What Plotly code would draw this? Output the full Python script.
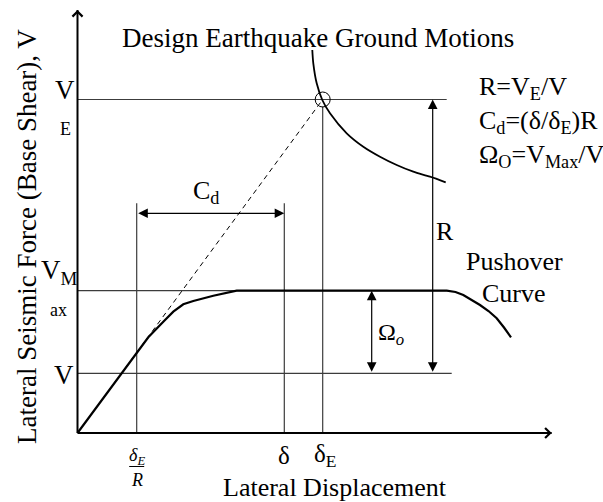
import plotly.graph_objects as go

# ---------------- data (schematic units) ----------------
disp_names = ["δE/R", "δ", "δE"]
disp_values = [5.92, 20.68, 24.52]          # δE/R, δ, δE
force_names = ["V", "VMax", "VE"]
force_values = [5.97, 14.23, 33.35]         # V, VMax, VE

pushover_disp = [0.0, 7.08, 8.58, 9.58, 10.58, 11.58, 13.58, 15.25, 15.92,
                 36.92, 37.8, 38.58, 39.4, 40.25, 41.1, 41.92, 42.65, 43.35]
pushover_force = [0.0, 9.57, 11.13, 12.13, 12.87, 13.2, 13.73, 14.13, 14.23,
                  14.23, 14.1, 13.8, 13.35, 12.8, 12.2, 11.47, 10.55, 9.57]

demand_disp = [23.48, 23.58, 23.92, 24.48, 25.25, 26.92, 28.58, 30.25, 31.92, 33.58, 35.25, 36.82]
demand_force = [38.3, 36.97, 34.97, 33.3, 31.97, 29.97, 28.63, 27.63, 26.8, 26.13, 25.63, 25.07]

axis_x_end = 47.42
axis_y_end = 42.3
ref_line_end = [37.42, 36.92, 36.92]        # right ends of V, VMax, VE lines
cd_level = 21.97
cd_tick_top = 22.97
r_arrow_x = 35.52
omega_arrow_x = 29.42

V, VMAX, VE = force_values
D_R, D, D_E = disp_values

FONT = "Liberation Serif"
GRID = "#3c3c3c"

fig = go.Figure()

def seg(x, y, color=GRID, width=1.2, dash=None):
    fig.add_trace(go.Scatter(x=x, y=y, mode="lines", hoverinfo="skip",
                             line=dict(color=color, width=width, dash=dash),
                             showlegend=False))

# reference horizontal lines
for fv, xe in zip(force_values, ref_line_end):
    seg([0, xe], [fv, fv])

# vertical lines
seg([D_R, D_R], [0, cd_tick_top])
seg([D, D], [0, cd_tick_top])
seg([D_E, D_E], [0, VE - 0.7])

# dashed elastic line
seg([0, D_E], [0, VE], color="black", width=1, dash="5px,4px")

# demand curve
fig.add_trace(go.Scatter(x=demand_disp, y=demand_force, mode="lines", hoverinfo="skip",
                         line=dict(color="black", width=1.8, shape="spline", smoothing=0.8),
                         showlegend=False))
# pushover curve
fig.add_trace(go.Scatter(x=pushover_disp, y=pushover_force, mode="lines", hoverinfo="skip",
                         line=dict(color="black", width=2.2),
                         showlegend=False))
# circle at design point
fig.add_trace(go.Scatter(x=[D_E], y=[VE], mode="markers", hoverinfo="skip",
                         marker=dict(symbol="circle-open", size=15, color="black", line=dict(width=1)),
                         showlegend=False))

# main axes
seg([0, axis_x_end], [0, 0], color="black", width=2)
seg([0, 0], [0, axis_y_end], color="black", width=2)

ann = []
def arrow(x0, y0, x1, y1, head=2, size=1.6, width=1.2, both=True):
    ann.append(dict(x=x1, y=y1, ax=x0, ay=y0, xref="x", yref="y", axref="x", ayref="y",
                    text="", showarrow=True, arrowhead=head, startarrowhead=head,
                    arrowsize=size, startarrowsize=size, arrowwidth=width,
                    arrowside="end+start" if both else "end", arrowcolor="black",
                    standoff=0, startstandoff=0))

arrow(0, axis_y_end - 0.5, 0, axis_y_end, head=4, size=1.3, width=1.5, both=False)
arrow(axis_x_end - 0.5, 0, axis_x_end, 0, head=4, size=1.3, width=1.5, both=False)
arrow(D_R, cd_level, D, cd_level)
arrow(r_arrow_x, V, r_arrow_x, VE)
arrow(omega_arrow_x, V, omega_arrow_x, VMAX)

def txt(x, y, s, size=26, xanchor="center", angle=0):
    ann.append(dict(x=x, y=y, xref="x", yref="y", text=s, showarrow=False,
                    xanchor=xanchor, yanchor="middle", textangle=angle,
                    font=dict(family=FONT, size=size, color="black")))

# titles
txt(-5.1, 19.65, "Lateral Seismic Force (Base Shear), V", size=27, angle=-90)
txt(25.7, -5.4, "Lateral Displacement", size=26)
txt(24.0, 39.5, "Design Earthquake Ground Motions", size=27)

# y labels
txt(-1.3, VE + 1.0, "V", size=27)
txt(-1.25, VE - 2.9, "E", size=18)
txt(-1.85, VMAX + 1.9, "V<sub>M</sub>", size=27)
txt(-1.9, VMAX - 1.93, "ax", size=18)
txt(-1.4, V - 0.2, "V", size=27)

# x labels
txt(D, -2.2, "δ", size=25)
txt(D_E + 0.2, -2.2, "δ<sub>E</sub>", size=25)
txt(D_R, -2.3, "<i>δ<sub>E</sub></i>", size=18)
txt(D_R, -4.7, "<i>R</i>", size=18)
seg([D_R - 0.75, D_R + 0.75], [-3.35, -3.35], color="black", width=1)

# annotations in plot
txt((D_R + D) / 2 - 0.5, cd_level + 2.1, "C<sub>d</sub>", size=26)
txt(r_arrow_x + 1.25, 20.2, "R", size=26)
txt(omega_arrow_x + 1.95, 9.9, "Ω<sub><i>o</i></sub>", size=24)
txt(43.65, 17.15, "Pushover", size=26)
txt(43.65, 13.95, "Curve", size=26)

# formulas
txt(39.95, 34.5, "R=V<sub>E</sub>/V", size=26, xanchor="left")
txt(39.95, 31.1, "C<sub>d</sub>=(δ/δ<sub>E</sub>)R", size=26, xanchor="left")
txt(39.95, 27.7, "Ω<sub>O</sub>=V<sub>Max</sub>/V", size=26, xanchor="left")

fig.update_layout(
    width=603, height=502,
    margin=dict(l=0, r=0, t=0, b=0),
    paper_bgcolor="white", plot_bgcolor="white",
    xaxis=dict(visible=False, range=[-7.75, 52.55], fixedrange=True),
    yaxis=dict(visible=False, range=[-6.9, 43.3], fixedrange=True),
    annotations=ann,
    showlegend=False,
)

fig.write_html("out.html")
